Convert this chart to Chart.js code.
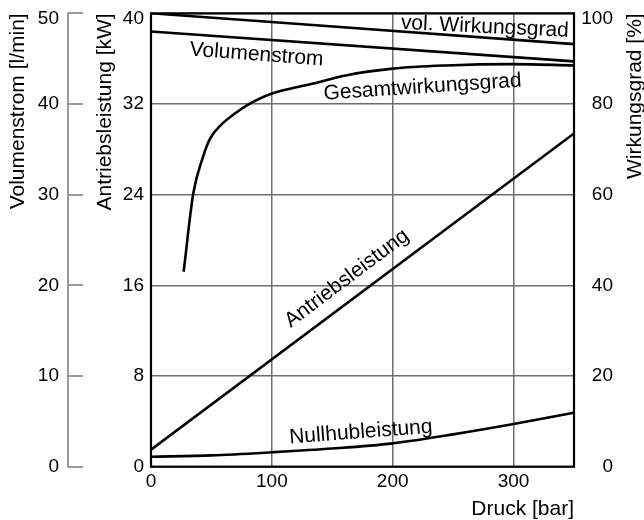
<!DOCTYPE html>
<html>
<head>
<meta charset="utf-8">
<script src="https://cdn.jsdelivr.net/npm/chart.js@4.4.0/dist/chart.umd.min.js"></script>
<style>
  html, body { margin: 0; padding: 0; background: #fff; }
  #wrap { width: 644px; height: 520px; }
</style>
</head>
<body>
<div id="wrap"><canvas id="kennlinien"></canvas></div>
<script>
// Werte (Druck in bar)
const druckLinear = [0, 350];
const volWirkungsgrad = [100, 93.2];          // %
const volumenstrom = [48.0, 44.7];            // l/min
const antriebsleistung = [1.5, 29.4];         // kW

const druckGesamt = [27, 35, 43, 49, 58, 70, 80, 99, 134, 161, 200, 244, 299, 350];
const gesamtwirkungsgrad = [43.0, 60.3, 68.3, 72.4, 75.4, 78.0, 79.8, 82.2, 84.5, 86.3, 87.8, 88.5, 88.8, 88.5]; // %

const druckNullhub = [0, 50, 100, 150, 200, 250, 300, 350];
const nullhubleistung = [0.88, 1.0, 1.27, 1.6, 2.06, 2.85, 3.76, 4.76]; // kW

// Beschriftungen an den Kurven
const labelTexte = ['vol. Wirkungsgrad', 'Volumenstrom', 'Gesamtwirkungsgrad', 'Antriebsleistung', 'Nullhubleistung'];
const labelDruck = [276, 87, 225, 165, 174];
const labelWert = [95.7, 44.8, 82.4, 16.2, 2.53];
const labelAchse = ['yPct', 'yVol', 'yPct', 'y', 'y'];
const labelWinkel = [2.7, 4.3, -3.8, -37, -4.3];

const FONT = "'Liberation Sans', Arial, Helvetica, sans-serif";
const GRID = '#6e6e6e';

function punkte(xs, ys) {
    return xs.map((x, i) => ({ x: x, y: ys[i] }));
}

function linie(data, axis) {
    return {
        data: data,
        yAxisID: axis,
        borderColor: '#000',
        borderWidth: 2.6,
        pointRadius: 0,
        fill: false,
        cubicInterpolationMode: 'monotone'
    };
}

// feste Achsbreiten, damit der Plotbereich wie im Original sitzt
function festeBreite(w) {
    return function (scale) {
        scale.width = w;
        scale.paddingTop = 0;
        scale.paddingBottom = 0;
    };
}

// oberste Beschriftung etwas nach unten schieben (wie im Original)
function tickText(max) {
    return function (value) {
        return value === max ? ['', String(value)] : String(value);
    };
}
function tickFont(max) {
    return function (ctx) {
        const oben = ctx.tick && ctx.tick.value === max;
        return { family: FONT, size: 19, lineHeight: oben ? 0.55 : 1.2 };
    };
}

const rahmenPlugin = {
    id: 'rahmen',
    afterDraw(chart) {
        const ctx = chart.ctx;
        const area = chart.chartArea;
        ctx.save();

        // linke Volumenstrom-Achse (Linie links von den Strichen)
        const sv = chart.scales.yVol;
        const xv = sv.right - sv.options.grid.tickLength;
        ctx.strokeStyle = '#9a9a9a';
        ctx.lineWidth = 2;
        ctx.beginPath();
        ctx.moveTo(xv, sv.top - 1);
        ctx.lineTo(xv, sv.bottom + 1);
        ctx.stroke();

        // Rahmen um den Plotbereich
        ctx.strokeStyle = '#000';
        ctx.lineWidth = 2.2;
        ctx.strokeRect(area.left, area.top, area.right - area.left, area.bottom - area.top);

        // Kurvenbeschriftungen
        ctx.fillStyle = '#000';
        ctx.font = '21px ' + FONT;
        ctx.textAlign = 'center';
        ctx.textBaseline = 'alphabetic';
        labelTexte.forEach((t, i) => {
            const px = chart.scales.x.getPixelForValue(labelDruck[i]);
            const py = chart.scales[labelAchse[i]].getPixelForValue(labelWert[i]);
            ctx.save();
            ctx.translate(px, py);
            ctx.rotate(labelWinkel[i] * Math.PI / 180);
            ctx.fillText(t, 0, 0);
            ctx.restore();
        });

        // Titel der rechten Achse, von unten nach oben gelesen
        const sp = chart.scales.yPct;
        ctx.translate(sp.right + 22, sp.top);
        ctx.rotate(-Math.PI / 2);
        ctx.textAlign = 'right';
        ctx.textBaseline = 'middle';
        ctx.fillText('Wirkungsgrad [%]', 0, 0);
        ctx.restore();
    }
};

new Chart(document.getElementById('kennlinien'), {
    type: 'line',
    data: {
        datasets: [
            linie(punkte(druckLinear, volWirkungsgrad), 'yPct'),
            linie(punkte(druckLinear, volumenstrom), 'yVol'),
            linie(punkte(druckGesamt, gesamtwirkungsgrad), 'yPct'),
            linie(punkte(druckLinear, antriebsleistung), 'y'),
            linie(punkte(druckNullhub, nullhubleistung), 'y')
        ]
    },
    options: {
        responsive: true,
        maintainAspectRatio: false,
        animation: false,
        layout: { padding: { top: 13.3, left: 0, right: 31, bottom: 0 } },
        plugins: { legend: { display: false }, tooltip: { enabled: false } },
        scales: {
            x: {
                type: 'linear',
                min: 0,
                max: 350,
                afterFit(scale) {
                    scale.height = 53.3;
                    scale.paddingLeft = 0;
                    scale.paddingRight = 0;
                },
                grid: { color: GRID, lineWidth: 1.5, drawTicks: false },
                border: { display: false },
                ticks: { stepSize: 100, includeBounds: false, padding: 4, color: '#000', font: { family: FONT, size: 19 } },
                title: {
                    display: true, text: 'Druck [bar]', align: 'end', color: '#000',
                    font: { family: FONT, size: 21, lineHeight: 1 }, padding: { top: 1.5, bottom: 0 }
                }
            },
            y: {
                position: 'left',
                weight: 0,
                min: 0,
                max: 40,
                afterFit: festeBreite(68),
                grid: { color: GRID, lineWidth: 1.5, drawTicks: false },
                border: { display: false },
                ticks: { stepSize: 8, padding: 7, color: '#000', callback: tickText(40), font: tickFont(40) },
                title: {
                    display: true, text: 'Antriebsleistung [kW]', align: 'end', color: '#000',
                    font: { family: FONT, size: 21, lineHeight: 1 }, padding: { top: 11.5, bottom: 0 }
                }
            },
            yVol: {
                position: 'left',
                weight: 1,
                min: 0,
                max: 50,
                afterFit: festeBreite(83),
                grid: { drawOnChartArea: false, drawTicks: true, tickLength: 15, color: '#9a9a9a', lineWidth: 2 },
                border: { display: false },
                ticks: { stepSize: 10, padding: 9, color: '#000', callback: tickText(50), font: tickFont(50) },
                title: {
                    display: true, text: 'Volumenstrom [l/min]', align: 'end', color: '#000',
                    font: { family: FONT, size: 21, lineHeight: 1 }, padding: { top: 8, bottom: 0 }
                }
            },
            yPct: {
                position: 'right',
                min: 0,
                max: 100,
                afterFit: festeBreite(39),
                grid: { drawOnChartArea: false, drawTicks: false },
                border: { display: false },
                ticks: { stepSize: 20, padding: 4, crossAlign: 'far', color: '#000', callback: tickText(100), font: tickFont(100) }
            }
        }
    },
    plugins: [rahmenPlugin]
});
</script>
</body>
</html>
